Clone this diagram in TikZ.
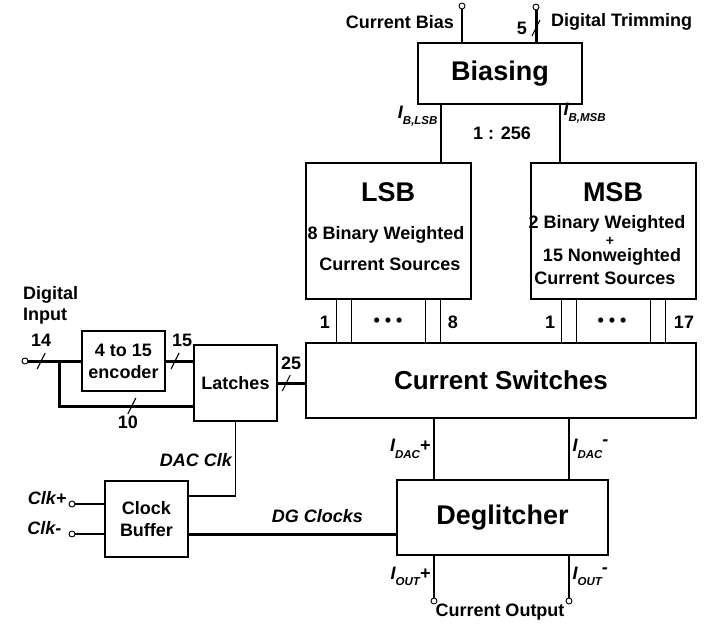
\documentclass[tikz,border=0pt]{standalone}
\usepackage{fontspec}
\setmainfont{Liberation Sans}
\usetikzlibrary{positioning, calc}

\newcommand{\isub}[2]{\textit{I}\raisebox{-0.35em}{\fontsize{11.5}{11.5}\selectfont\bfseries\itshape #1}#2}

\begin{document}
\begin{tikzpicture}[
    x=1pt, y=-1pt,
    block/.style={
        rectangle, draw, line width=1.3pt, fill=white, inner sep=0pt,
        font=\fontsize{18}{22}\selectfont\bfseries, align=center
    },
    bigtxt/.style={font=\fontsize{27}{30}\selectfont\bfseries},
    lbl/.style={font=\fontsize{18}{21}\selectfont\bfseries, inner sep=1pt},
    ilbl/.style={font=\fontsize{18}{21}\selectfont\bfseries\itshape, inner sep=1pt},
    wire/.style={line width=1.1pt},
    bus/.style={line width=3pt},
    tick/.style={line width=1.1pt},
    term/.style={circle, draw, fill=white, line width=0.9pt, inner sep=0pt, minimum size=6pt}
]
\useasboundingbox (0,0) rectangle (710,626);

% Blocks
\node[block, bigtxt, minimum width=164pt, minimum height=61pt] (bias) at (500,73.5) {Biasing};
\node[block, minimum width=165pt, minimum height=136pt] (lsb) at (388.5,231) {};
\node[block, minimum width=165pt, minimum height=136pt] (msb) at (613.5,231) {};
\node[block, font=\fontsize{26}{30}\selectfont\bfseries, minimum width=390pt, minimum height=75pt] (sw) at (501,380.5) {Current Switches};
\node[block, bigtxt, minimum width=211pt, minimum height=75pt] (deg) at (502.5,517.5) {Deglitcher};
\node[block, minimum width=83pt, minimum height=76pt] (latch) at (235.5,383) {Latches};
\node[block, minimum width=83pt, minimum height=60pt] (enc) at (123.5,361) {4 to 15\\encoder};
\node[block, minimum width=83pt, minimum height=76pt] (clk) at (146.5,519) {Clock\\Buffer};

% Current source texts
\node[bigtxt] at (388,192) {LSB};
\node[lbl] at (386,235) {8 Binary Weighted};
\node[lbl] at (390,264) {Current Sources};
\node[bigtxt] at (613,192) {MSB};
\node[lbl, inner sep=0pt] at (607,224) {2 Binary Weighted};
\node[lbl, inner sep=0pt, font=\fontsize{14}{14}\selectfont\bfseries] at (610,241) {+};
\node[lbl, inner sep=0pt] at (612,257) {15 Nonweighted};
\node[lbl, inner sep=0pt] at (605,278) {Current Sources};

% Terminals
\node[term] (cb)  at (462,6) {};
\node[term] (dt)  at (536,7) {};
\node[term] (din) at (25,361) {};
\node[term] (ckp) at (72,504) {};
\node[term] (ckm) at (72,534) {};
\node[term] (op)  at (434,601) {};
\node[term] (om)  at (569,601) {};

\coordinate (xl) at (441,0);
\coordinate (xr) at (560,0);
\coordinate (xp) at (434,0);
\coordinate (xm) at (569,0);
\coordinate (ybot) at (0,406);

% Bias inputs
\node[lbl, anchor=east] at (455,22) {Current Bias};
\node[lbl, anchor=west] at (550,22) {Digital Trimming};
\draw[wire] (cb) -- (cb |- bias.north);
\draw[bus] (dt) -- coordinate[pos=0.55] (s5) (dt |- bias.north);
\node[lbl, left=8pt of s5] {5};

% Bias currents
\draw[wire] (bias.south -| xl) -- node[ilbl, left=2pt, pos=0.2] {\isub{B,LSB}{}} (lsb.north -| xl);
\draw[wire] (bias.south -| xr) -- node[ilbl, right=2pt, pos=0.15] {\isub{B,MSB}{}} (msb.north -| xr);
\node[lbl] at (502,133) {1 : 256};

% Sources to switches
\foreach \src in {lsb, msb} {
    \coordinate (swtop) at (sw.north -| \src.south);
    \foreach \dx in {-52,-37,37,52}
        \draw[wire] ([xshift=\dx pt]\src.south) -- ([xshift=\dx pt]swtop);
}
\node[lbl] at (325,322) {1};
\node[lbl] at (388,322) {\textbullet\ \textbullet\ \textbullet};
\node[lbl] at (453,322) {8};
\node[lbl] at (550,322) {1};
\node[lbl] at (612,322) {\textbullet\ \textbullet\ \textbullet};
\node[lbl] at (684,322) {17};

% Digital input buses
\node[lbl, align=left, anchor=west] at (22,305) {Digital\\Input};
\draw[bus] (din) -- coordinate[pos=0.24] (s14) coordinate[pos=0.59] (br) (din -| enc.west);
\draw[bus] (br) |- coordinate[pos=0.77] (s10) (latch.west |- ybot);
\draw[bus] (enc.east) -- coordinate[pos=0.34] (s15) (enc.east -| latch.west);
\draw[bus] (latch.east) -- coordinate[pos=0.31] (s25) (latch.east -| sw.west);
\foreach \s in {s14, s10, s15, s25, s5}
    \draw[tick] (\s) ++(-4,8) -- ++(8,-16);
\node[lbl, above=13pt of s14] {14};
\node[lbl, above=13pt of s15, xshift=7pt] {15};
\node[lbl, above=12pt of s25, xshift=5pt] {25};
\node[lbl, below=9pt of s10, xshift=-4pt] {10};

% Clocks
\node[ilbl, left=1pt of ckp, yshift=6pt] {Clk+};
\node[ilbl, left=6pt of ckm, yshift=6pt] {Clk-};
\draw[wire] (ckp) -- (ckp -| clk.west);
\draw[wire] (ckm) -- (ckm -| clk.west);
\coordinate (dac) at ([yshift=23pt]clk.east);
\coordinate (dg) at ([yshift=-15pt]clk.east);
\draw[wire] (latch.south) |- node[ilbl, pos=0.26, left=2pt] {DAC Clk} (dac);
\draw[bus] (dg) -- node[ilbl, pos=0.62, above=9pt] {DG Clocks} (dg -| deg.west);

% Outputs
\draw[wire] (sw.south -| xp) -- node[ilbl, left=2pt] {\isub{DAC}{+}} (deg.north -| xp);
\draw[wire] (sw.south -| xm) -- node[ilbl, right=2pt] {\isub{DAC}{\raisebox{0.35em}{-}}} (deg.north -| xm);
\draw[wire] (deg.south -| xp) -- node[ilbl, left=2pt] {\isub{OUT}{+}} (op);
\draw[wire] (deg.south -| xm) -- node[ilbl, right=2pt] {\isub{OUT}{\raisebox{0.35em}{-}}} (om);
\node[lbl] at (500,612) {Current Output};

\end{tikzpicture}
\end{document}
